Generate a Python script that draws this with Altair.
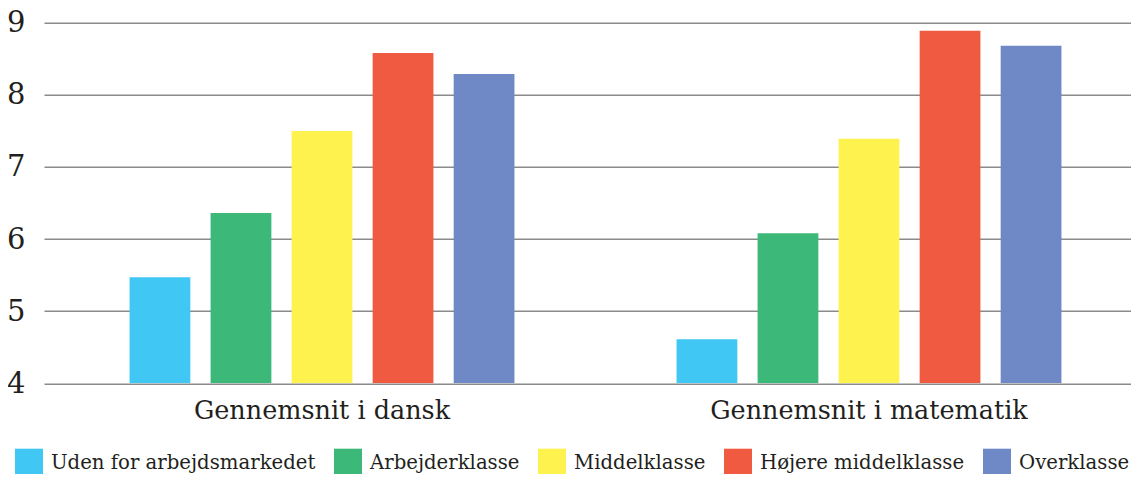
import altair as alt
import pandas as pd

categories = ["Gennemsnit i dansk", "Gennemsnit i matematik"]
classes = ["Uden for arbejdsmarkedet", "Arbejderklasse", "Middelklasse",
           "Højere middelklasse", "Overklasse"]
dansk = [5.47, 6.36, 7.50, 8.58, 8.29]
matematik = [4.61, 6.08, 7.39, 8.89, 8.68]
colors = ["#41C7F3", "#3CB979", "#FEF24E", "#F05A40", "#6E89C5"]
y_ticks = [4, 5, 6, 7, 8, 9]

rows = []
for cat, vals in zip(categories, [dansk, matematik]):
    for cls, v in zip(classes, vals):
        rows.append({"kategori": cat, "klasse": cls, "værdi": v})
df = pd.DataFrame(rows)

FONT = "DejaVu Serif"
TXT = "#231f20"

chart = alt.Chart(df).mark_bar(clip=True).encode(
    x=alt.X("kategori:N", sort=categories, title=None,
            scale=alt.Scale(paddingInner=0.086, paddingOuter=0.0366, align=0.7),
            axis=alt.Axis(labelAngle=0, labelFontSize=25.5, labelFont=FONT,
                          labelColor=TXT, labelPadding=15, ticks=False,
                          domain=False, grid=False, labelLimit=0)),
    xOffset=alt.XOffset("klasse:N", sort=classes,
                        scale=alt.Scale(paddingInner=0.25, paddingOuter=0.71)),
    y=alt.Y("værdi:Q", title=None,
            scale=alt.Scale(domain=[4, 9], zero=False, nice=False),
            axis=alt.Axis(values=y_ticks, labelFontSize=29, labelFont=FONT,
                          labelColor=TXT, labelPadding=19, ticks=False,
                          domain=False, grid=True, gridColor="#8a8a8a",
                          gridWidth=1.6)),
    y2=alt.datum(4),
    color=alt.Color("klasse:N", sort=classes,
                    scale=alt.Scale(domain=classes, range=colors),
                    legend=alt.Legend(title=None, orient="none",
                                      legendX=-29, legendY=426,
                                      direction="horizontal", columns=5,
                                      symbolType="square", symbolSize=784,
                                      symbolStrokeWidth=0, symbolOpacity=1,
                                      labelFont=FONT, labelFontSize=19.7,
                                      labelColor=TXT, labelOffset=8,
                                      columnPadding=18, padding=0,
                                      labelLimit=0)),
).properties(
    width=1087,
    height=360.6,
    autosize=alt.AutoSizeParams(type="none"),
    padding={"left": 36, "top": 14.7, "right": 0, "bottom": 91},
).configure(font=FONT).configure_view(stroke=None)

chart.save("out.html", embed_options={"renderer": "svg", "actions": False})
